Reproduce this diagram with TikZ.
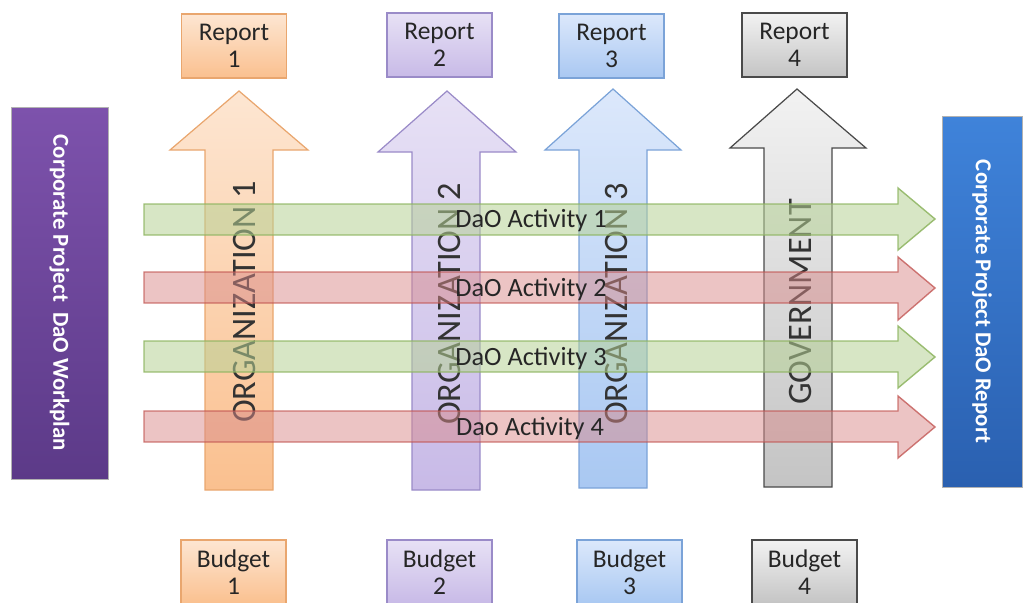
\documentclass[tikz,border=0pt]{standalone}
\usepackage{fontspec}
\setmainfont{Carlito}
\usepackage{tikz}
\usetikzlibrary{arrows}
\usepackage{xcolor}
\definecolor{orangetop}{HTML}{FDE6D2}
\definecolor{orangebot}{HTML}{FAC08F}
\definecolor{orangeline}{HTML}{E9A66E}
\definecolor{lilactop}{HTML}{E7E1F5}
\definecolor{lilacbot}{HTML}{C8BAE7}
\definecolor{lilacline}{HTML}{9A8BC8}
\definecolor{skytop}{HTML}{DCE8FB}
\definecolor{skybot}{HTML}{A9C8F2}
\definecolor{skyline}{HTML}{7BA3D8}
\definecolor{greytop}{HTML}{F2F2F2}
\definecolor{greybot}{HTML}{C4C4C4}
\definecolor{greyline}{HTML}{4A4A4A}
\definecolor{flowgreen}{HTML}{B6D295}
\definecolor{flowgreenline}{HTML}{8DB45F}
\definecolor{flowred}{HTML}{D98A8A}
\definecolor{flowredline}{HTML}{C0504D}
\definecolor{plantop}{HTML}{7D52AC}
\definecolor{planbot}{HTML}{5C3A88}
\definecolor{reptop}{HTML}{3F83DA}
\definecolor{repbot}{HTML}{2A60B0}
\tikzstyle{smallbox} = [rectangle, draw, line width=0.7pt, minimum width=2.1cm, minimum height=1.28cm, align=center, inner sep=1pt, text=black!85, font=\fontsize{14.5}{15.5}\selectfont]
\tikzstyle{orangebox} = [smallbox, draw=orangeline, top color=orangetop, bottom color=orangebot]
\tikzstyle{lilacbox} = [smallbox, draw=lilacline, top color=lilactop, bottom color=lilacbot]
\tikzstyle{skybox} = [smallbox, draw=skyline, top color=skytop, bottom color=skybot]
\tikzstyle{greybox} = [smallbox, draw=greyline, top color=greytop, bottom color=greybot]
\tikzstyle{uparrow} = [line width=0.7pt, line join=miter]
\tikzstyle{orglabel} = [text=black!80, font=\fontsize{19.5}{20}\selectfont]
\tikzstyle{greenflow} = [draw=flowgreenline, fill=flowgreen, fill opacity=0.55, draw opacity=0.85, line width=0.8pt]
\tikzstyle{redflow} = [draw=flowredline, fill=flowred, fill opacity=0.5, draw opacity=0.75, line width=0.8pt]
\tikzstyle{flowlabel} = [text=black!85, font=\fontsize{15}{16}\selectfont]
\tikzstyle{sidebox} = [rectangle, draw=black!30, line width=0.5pt, minimum height=7.44cm]
\tikzstyle{sidelabel} = [text=white, font=\bfseries\fontsize{13}{14}\selectfont]

\begin{document}
\begin{tikzpicture}[x=0.02cm, y=-0.02cm]
\useasboundingbox (0,0) rectangle (1024,602);
%side boxes
\node[sidebox, minimum width=1.94cm, top color=plantop, bottom color=planbot] (workplan) at (59.5,293) {};
\node[sidelabel, rotate=-90] (workplantext) at (workplan.center) {Corporate Project\ \ DaO Workplan};
\node[sidebox, minimum width=1.6cm, minimum height=7.42cm, top color=reptop, bottom color=repbot] (daoreport) at (982,301.5) {};
\node[sidelabel, rotate=-90] (daoreporttext) at (daoreport.center) {Corporate Project DaO Report};

%reports
\node[orangebox] (report1) at (234,46) {Report\\1};
\node[lilacbox] (report2) at (439.5,45) {Report\\2};
\node[skybox] (report3) at (611.5,46) {Report\\3};
\node[greybox] (report4) at (794.5,45) {Report\\4};

%budgets
\node[orangebox] (budget1) at (233.5,572) {Budget\\1};
\node[lilacbox] (budget2) at (439.5,572) {Budget\\2};
\node[skybox] (budget3) at (629.5,572) {Budget\\3};
\node[greybox] (budget4) at (804.5,572) {Budget\\4};

%up arrows
\draw[uparrow, draw=orangeline, top color=orangetop, bottom color=orangebot] (205,490) -- (205,150) -- (170,150) -- (239,91) -- (308,150) -- (273,150) -- (273,490) -- cycle;
\draw[uparrow, draw=lilacline, top color=lilactop, bottom color=lilacbot] (412,490) -- (412,152) -- (378,152) -- (447,91) -- (516,152) -- (480,152) -- (480,490) -- cycle;
\draw[uparrow, draw=skyline, top color=skytop, bottom color=skybot] (579,488) -- (579,150) -- (545,150) -- (613,89) -- (681,150) -- (647,150) -- (647,488) -- cycle;
\draw[uparrow, draw=greyline, top color=greytop, bottom color=greybot] (764,487) -- (764,148) -- (730,148) -- (797,89) -- (866,148) -- (832,148) -- (832,487) -- cycle;
\node[orglabel, rotate=90] (org1) at (244,302) {ORGANIZATION 1};
\node[orglabel, rotate=90] (org2) at (449,304) {ORGANIZATION 2};
\node[orglabel, rotate=90] (org3) at (616,304) {ORGANIZATION 3};
\node[orglabel, rotate=90] (gov) at (800,302) {GOVERNMENT};

%activity arrows
\draw[greenflow] (144,204) -- (898,204) -- (898,188) -- (935,219) -- (898,250) -- (898,235) -- (144,235) -- cycle;
\draw[redflow] (144,272) -- (898,272) -- (898,257) -- (935,288) -- (898,320) -- (898,303) -- (144,303) -- cycle;
\draw[greenflow] (144,341) -- (898,341) -- (898,326) -- (935,357) -- (898,388) -- (898,372) -- (144,372) -- cycle;
\draw[redflow] (144,411) -- (898,411) -- (898,396) -- (935,427) -- (898,458) -- (898,442) -- (144,442) -- cycle;
\node[flowlabel] (act1) at (531,221) {DaO Activity 1};
\node[flowlabel] (act2) at (531,290) {DaO Activity 2};
\node[flowlabel] (act3) at (531,359) {DaO Activity 3};
\node[flowlabel] (act4) at (530,429) {Dao Activity 4};
\end{tikzpicture}
\end{document}
